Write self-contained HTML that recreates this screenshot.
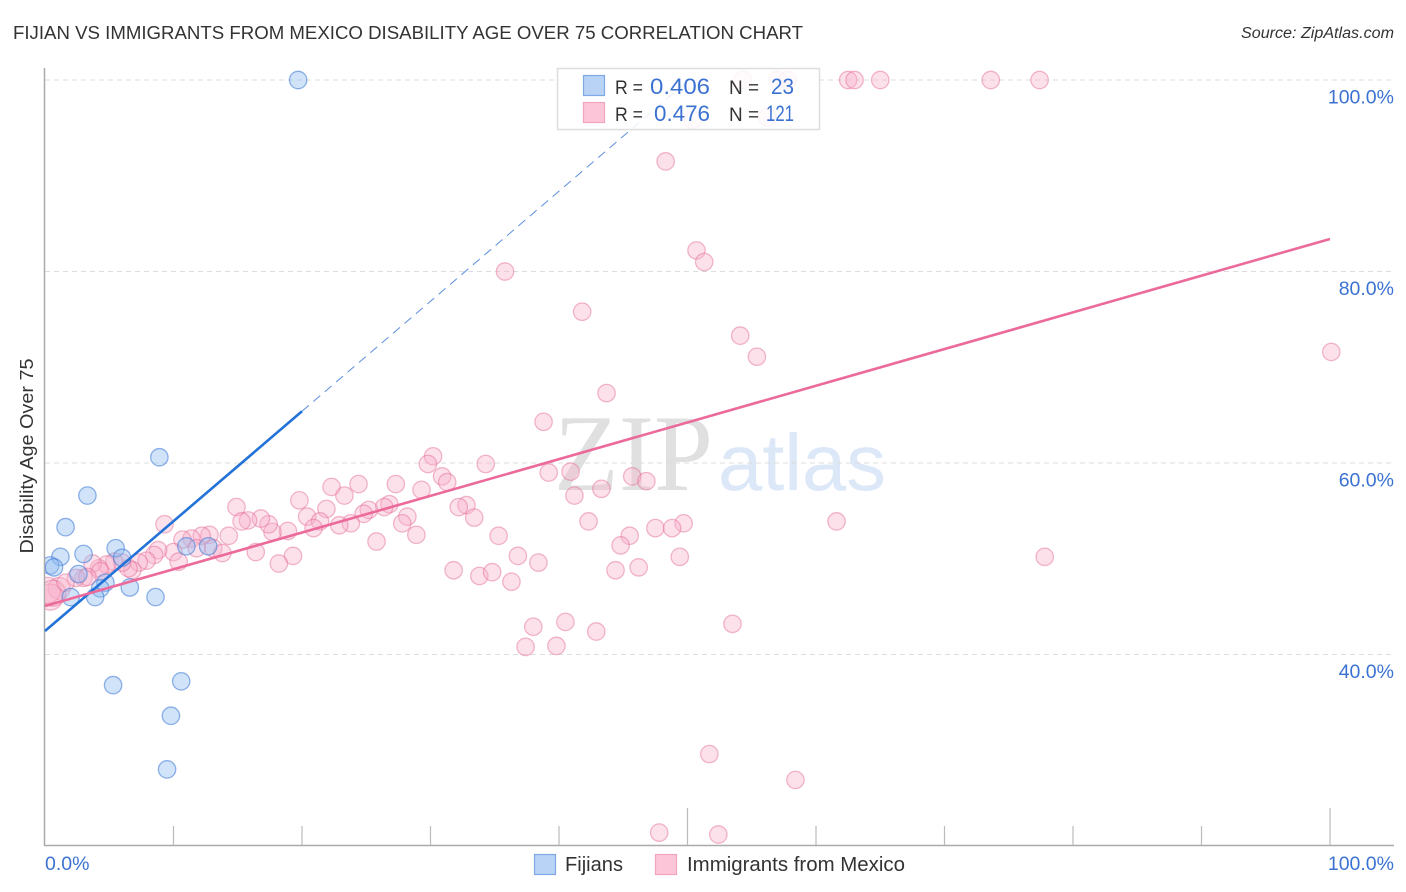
<!DOCTYPE html>
<html lang="en">
<head>
<meta charset="utf-8">
<title>Fijian vs Immigrants from Mexico Disability Age Over 75 Correlation Chart</title>
<style>
html,body{margin:0;padding:0;background:#fff;}
svg{display:block;font-family:"Liberation Sans",sans-serif;}
</style>
</head>
<body>
<svg id="chart" width="1406" height="892" viewBox="0 0 1406 892" xmlns="http://www.w3.org/2000/svg">
  <defs>
    <clipPath id="plot-clip"><rect x="45" y="60" width="1361" height="786"/></clipPath>
  </defs>
  <rect width="1406" height="892" fill="#fff"/>
  <text x="13" y="39" font-size="18.5" fill="#333" textLength="790" lengthAdjust="spacingAndGlyphs">FIJIAN VS IMMIGRANTS FROM MEXICO DISABILITY AGE OVER 75 CORRELATION CHART</text>
  <text x="1394" y="38" font-size="15.5" font-style="italic" fill="#333" text-anchor="end" textLength="153" lengthAdjust="spacingAndGlyphs">Source: ZipAtlas.com</text>
  <g>
    <text x="554" y="490" font-family="'Liberation Serif',serif" font-size="109" fill="#e0e0e0" textLength="159" lengthAdjust="spacingAndGlyphs">ZIP</text>
    <text x="718" y="490" font-size="80" fill="#dce8f8" textLength="168" lengthAdjust="spacingAndGlyphs">atlas</text>
  </g>
  <g id="grid"></g>
  <g id="axes"></g>
  <g id="pink-points" clip-path="url(#plot-clip)"></g>
  <g id="blue-points" clip-path="url(#plot-clip)"></g>
  <g id="trend-lines"></g>
  <text transform="translate(33,456) rotate(-90)" font-size="18" fill="#333" text-anchor="middle" textLength="195" lengthAdjust="spacingAndGlyphs">Disability Age Over 75</text>

  <g>
    <rect x="557.5" y="68.5" width="262" height="61" fill="#fff" fill-opacity="0.86" stroke="#dedede" stroke-width="1.5"/>
    <rect x="583.5" y="75.5" width="21" height="20" fill="#b9d3f6" stroke="#7fa9e4" stroke-width="1.2"/>
    <rect x="583.5" y="102.5" width="21" height="20" fill="#fcc6d8" stroke="#f2a3bd" stroke-width="1.2"/>
    <text x="615" y="94" font-size="19.5" fill="#333" textLength="28" lengthAdjust="spacingAndGlyphs">R =</text>
    <text x="650" y="94" font-size="22" fill="#3b72d2" textLength="60" lengthAdjust="spacingAndGlyphs">0.406</text>
    <text x="729" y="94" font-size="19.5" fill="#333" textLength="30" lengthAdjust="spacingAndGlyphs">N =</text>
    <text x="794" y="94" font-size="22" fill="#3b72d2" text-anchor="end" textLength="23" lengthAdjust="spacingAndGlyphs">23</text>
    <text x="615" y="121" font-size="19.5" fill="#333" textLength="28" lengthAdjust="spacingAndGlyphs">R =</text>
    <text x="654" y="121" font-size="22" fill="#3b72d2" textLength="56" lengthAdjust="spacingAndGlyphs">0.476</text>
    <text x="729" y="121" font-size="19.5" fill="#333" textLength="30" lengthAdjust="spacingAndGlyphs">N =</text>
    <text x="794" y="121" font-size="22" fill="#3b72d2" text-anchor="end" textLength="28" lengthAdjust="spacingAndGlyphs">121</text>
  </g>

  <g>
    <rect x="534.5" y="854.5" width="21" height="20" fill="#b9d3f6" stroke="#7fa9e4" stroke-width="1.2"/>
    <text x="565" y="871" font-size="20" fill="#333" textLength="58" lengthAdjust="spacingAndGlyphs">Fijians</text>
    <rect x="655.5" y="854.5" width="21" height="20" fill="#fcc6d8" stroke="#f2a3bd" stroke-width="1.2"/>
    <text x="687" y="871" font-size="20" fill="#333" textLength="218" lengthAdjust="spacingAndGlyphs">Immigrants from Mexico</text>
  </g>
</svg>
<script>
// Chart data (percent values)
const yTickValues = [100, 80, 60, 40];
const yTickLabels = ["100.0%", "80.0%", "60.0%", "40.0%"];
const xTickValues = [0, 10, 20, 30, 40, 50, 60, 70, 80, 90, 100];
const xEndLabels = ["0.0%", "100.0%"];

const fijianX = [19.7, 8.9, 3.3, 1.6, 1.2, 3.0, 5.5, 6.0, 0.4, 0.7, 2.6, 4.7, 4.3, 6.6, 3.9, 2.0, 8.6, 11.0, 12.7, 5.3, 10.6, 9.8, 9.5];
const fijianY = [100, 60.6, 56.6, 53.3, 50.2, 50.5, 51.1, 50.1, 49.3, 49.1, 48.4, 47.5, 46.9, 47.0, 46.0, 46.0, 46.0, 51.3, 51.3, 36.8, 37.2, 33.6, 28.0];

const mexicoX = [54.3, 57.0, 57.8, 62.5, 63.0, 65.0, 73.6, 77.4, 50.4, 56.2, 48.3, 50.7, 51.3, 35.8, 41.8, 54.1, 55.4, 100.1, 43.7, 38.8, 30.2, 29.8, 34.3, 30.9, 31.3, 39.2, 40.9, 45.7, 46.8, 41.2, 43.3, 22.3, 24.4, 27.3, 29.3, 23.3, 19.8, 14.9, 32.8, 32.2, 26.8, 26.4, 25.2, 24.8, 21.9, 20.4, 21.4, 33.4, 28.2, 27.8, 23.8, 22.9, 20.9, 18.9, 17.7, 17.4, 16.8, 15.8, 15.3, 9.3, 42.3, 49.7, 47.5, 48.8, 61.6, 45.5, 44.8, 35.3, 28.9, 25.8, 14.3, 12.8, 12.2, 11.4, 10.7, 11.8, 13.1, 13.8, 16.4, 19.3, 18.2, 10.0, 8.8, 8.5, 7.9, 10.4, 7.3, 6.8, 6.5, 6.0, 5.4, 4.8, 4.2, 3.7, 36.8, 38.4, 49.4, 77.8, 31.8, 33.8, 34.8, 36.3, 44.4, 46.2, 38.0, 40.5, 42.9, 37.4, 39.8, 53.5, 51.7, 58.4, 47.8, 52.4, 3.0, 2.4, 4.3, 3.3, 1.6];
const mexicoY = [100, 100, 100, 100, 100, 100, 100, 100, 95.8, 96.1, 91.5, 82.2, 81.0, 80.0, 75.8, 73.3, 71.1, 71.6, 67.3, 64.3, 60.7, 59.9, 59.9, 58.6, 58.0, 59.0, 59.1, 58.6, 58.1, 56.6, 57.3, 57.5, 57.8, 57.8, 57.2, 56.6, 56.1, 55.4, 55.6, 55.4, 55.7, 55.4, 55.1, 54.7, 55.2, 54.4, 53.9, 54.3, 54.4, 53.7, 53.7, 53.5, 53.2, 52.9, 52.8, 53.6, 54.2, 54.0, 53.9, 53.6, 53.9, 53.7, 53.2, 53.2, 53.9, 52.4, 51.4, 52.4, 52.5, 51.8, 52.4, 52.5, 52.4, 52.1, 52.0, 51.1, 51.1, 50.6, 50.7, 50.3, 49.5, 50.7, 50.9, 50.4, 49.8, 49.7, 49.6, 48.8, 49.0, 49.6, 49.7, 49.4, 49.0, 49.5, 50.3, 49.6, 50.2, 50.2, 48.8, 48.2, 48.6, 47.6, 48.8, 49.1, 42.9, 43.4, 42.4, 40.8, 40.9, 43.2, 29.6, 26.9, 21.4, 21.2, 48.0, 48.0, 48.7, 48.1, 47.5];
const mexicoLargeX = [1.1, 0.4, 0.2, 0.6];
const mexicoLargeY = [46.9, 46.0, 46.7, 46.4];

const fijianFitSolid = [[0, 42.45], [20, 65.4]];
const fijianFitDashed = [[20, 65.4], [50.1, 100]];
const mexicoFit = [[0, 45.07], [100, 83.4]];

// Axis functions
function xScale(v) { return 45 + v * 12.85; }
function yScale(v) { return 80 + (100 - v) * 9.575; }

const NS = "http://www.w3.org/2000/svg";
function make(tag, parent, attrs) {
  const el = document.createElementNS(NS, tag);
  for (const k in attrs) el.setAttribute(k, attrs[k]);
  parent.appendChild(el);
  return el;
}

const gridG = document.getElementById("grid");
const axesG = document.getElementById("axes");
const pinkG = document.getElementById("pink-points");
const blueG = document.getElementById("blue-points");
const lineG = document.getElementById("trend-lines");

yTickValues.forEach(function (v, i) {
  const y = yScale(v);
  const g = make("line", gridG, { x1: 45, x2: 1394, y1: y, y2: y, stroke: "#dcdcdc", "stroke-width": 1, "stroke-dasharray": "5 4" });
  
  
  const t = make("text", axesG, { x: 1394, y: y + 23.5, "font-size": 19.5, fill: "#3b72d2", "text-anchor": "end" });
  t.textContent = yTickLabels[i];
  
  
});

const yAxis = make("line", axesG, { x1: 44.5, x2: 44.5, y1: 68, y2: 846, stroke: "#aaa", "stroke-width": 1.5 });


const xAxis = make("line", axesG, { x1: 44, x2: 1394, y1: 845.5, y2: 845.5, stroke: "#aaa", "stroke-width": 1.5 });



xTickValues.forEach(function (v) {
  if (v === 0) return;
  const x = xScale(v);
  const tall = v === 50 || v === 100;
  const tk = make("line", axesG, { x1: x, x2: x, y1: tall ? 808 : 826, y2: 845, stroke: "#bbb", "stroke-width": 1.2 });
  
  
});

const xLeft = make("text", axesG, { x: 45, y: 870, "font-size": 19.5, fill: "#3b72d2" });
xLeft.textContent = xEndLabels[0];


const xRight = make("text", axesG, { x: 1394, y: 870, "font-size": 19.5, fill: "#3b72d2", "text-anchor": "end" });
xRight.textContent = xEndLabels[1];



const pinkStyle = { fill: "rgba(248,176,202,0.38)", stroke: "rgba(228,108,150,0.48)", "stroke-width": 1.3 };
const blueStyle = { fill: "rgba(145,188,240,0.42)", stroke: "rgba(58,118,214,0.55)", "stroke-width": 1.3 };

function circle(parent, x, y, r, style) {
  return make("circle", parent, Object.assign({ cx: xScale(x), cy: yScale(y), r: r }, style));
}

mexicoLargeX.forEach(function (x, i) {
  const c = circle(pinkG, x, mexicoLargeY[i], i === 0 ? 11 : 13, pinkStyle);
  
  
});
mexicoX.forEach(function (x, i) {
  const c = circle(pinkG, x, mexicoY[i], 8.7, pinkStyle);
  
  
});
fijianX.forEach(function (x, i) {
  const c = circle(blueG, x, fijianY[i], 8.7, blueStyle);
  
  
});

function fitLine(parent, pts, attrs) {
  return make("line", parent, Object.assign({ x1: xScale(pts[0][0]), y1: yScale(pts[0][1]), x2: xScale(pts[1][0]), y2: yScale(pts[1][1]) }, attrs));
}
const dashedFit = fitLine(lineG, fijianFitDashed, { stroke: "#5b8fdc", "stroke-width": 1, "stroke-dasharray": "9 6" });


const solidFit = fitLine(lineG, fijianFitSolid, { stroke: "#2272d8", "stroke-width": 2.6 });


const pinkFit = fitLine(lineG, mexicoFit, { stroke: "#ec6a9a", "stroke-width": 2.6 });


</script>
</body>
</html>
